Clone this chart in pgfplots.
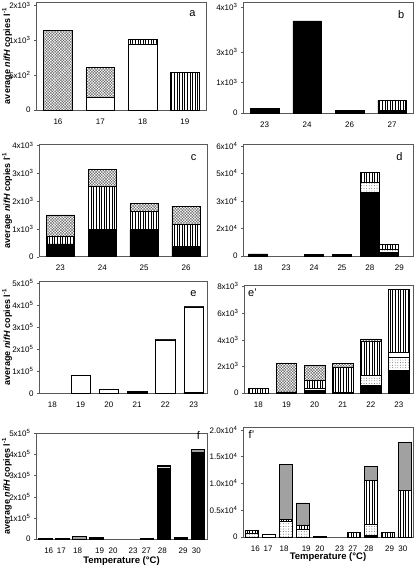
\documentclass[border=0pt]{standalone}
\usepackage{fontspec}
\setmainfont{Liberation Sans}
\setsansfont{Liberation Sans}
\usepackage{pgfplots}
\pgfplotsset{compat=1.18}
\usetikzlibrary{patterns.meta}

\newcommand{\E}[2]{#1x10\textsuperscript{#2}}

\tikzset{
 blk/.style={fill=black, draw=black},
 dts/.style={draw=black, pattern={Dots[distance=2.6pt, radius=0.45pt]}, pattern color=black!70},
 wht/.style={draw=black, fill=white},
 vrt/.style={draw=black, pattern={Lines[angle=90, distance=2.6pt, line width=0.5pt]}, pattern color=black},
 crs/.style={draw=black, pattern={Hatch[angle=45, distance=2pt, line width=0.35pt]}, pattern color=black!65},
 gry/.style={draw=black, fill=black!37},
 lettr/.style={font=\fontsize{11}{12}\selectfont},
}

\pgfplotsset{panel/.style={
 scale only axis, ybar stacked, ymin=0, enlargelimits=false,
 axis line style={black!65, line width=0.6pt},
 tick label style={font=\fontsize{8}{9}\selectfont},
 xtick style={draw=none},
 ytick style={black!65},
 tick align=outside, major tick length=2pt,
 ytick pos=left, xtick pos=bottom,
 scaled y ticks=false,
 xticklabel style={yshift=-3pt},
 ylabel style={font=\bfseries\fontsize{9}{10}\selectfont, anchor=center},
 xlabel style={font=\bfseries\fontsize{9.5}{11}\selectfont, at={(axis description cs:0.5,0)}, anchor=center},
 every axis plot/.append style={line width=0.5pt},
 clip=false,
 anchor=south west,
}}

\begin{document}
\begin{tikzpicture}
\useasboundingbox (0,0) rectangle (416pt,568pt);

% ---------- a ----------
\begin{axis}[panel, at={(36pt,458pt)}, width=170pt, height=108pt,
 xmin=-0.52, xmax=3.5, ymax=1550, bar width=0.68,
 xtick={0,1,2,3}, xticklabels={16,17,18,19},
 ytick={0,500,1000,1500}, yticklabels={0,\E{5}{2},\E{1}{3},\E{2}{3}},
 ylabel={average \textit{nifH} copies l\textsuperscript{-1}},
 ylabel style={at={(axis description cs:-0.17,0.5)}}]
\addplot[wht] coordinates {(0,0) (1,180) (2,950) (3,0)};
\addplot[vrt] coordinates {(0,0) (1,0) (2,60) (3,540)};
\addplot[crs] coordinates {(0,1140) (1,430) (2,0) (3,0)};
\node[lettr] at (rel axis cs:0.92,0.89) {a};
\end{axis}

% ---------- b ----------
\begin{axis}[panel, at={(243pt,455pt)}, width=170pt, height=111pt,
 xmin=-0.51, xmax=3.49, ymax=4000, bar width=0.67,
 xtick={0,1,2,3}, xticklabels={23,24,26,27},
 ytick={0,1100,2210,3820}, yticklabels={0,\E{1}{3},\E{3}{3},\E{4}{3}}]
\addplot[blk] coordinates {(0,180) (1,3320) (2,85) (3,85)};
\addplot[vrt] coordinates {(0,0) (1,0) (2,0) (3,370)};
\node[lettr] at (rel axis cs:0.93,0.89) {b};
\end{axis}

% ---------- c ----------
\begin{axis}[panel, at={(39pt,311.3pt)}, width=168pt, height=112.7pt,
 xmin=-0.51, xmax=3.5, ymax=4050, bar width=0.68,
 xtick={0,1,2,3}, xticklabels={23,24,25,26},
 ytick={0,1000,2000,3000,4000}, yticklabels={0,\E{1}{3},\E{2}{3},\E{3}{3},\E{4}{3}},
 ylabel={average \textit{nifH} copies l\textsuperscript{-1}},
 ylabel style={at={(axis description cs:-0.19,0.5)}}]
\addplot[blk] coordinates {(0,460) (1,980) (2,980) (3,360)};
\addplot[vrt] coordinates {(0,290) (1,1550) (2,640) (3,800)};
\addplot[crs] coordinates {(0,750) (1,595) (2,285) (3,655)};
\node[lettr] at (rel axis cs:0.92,0.88) {c};
\end{axis}

% ---------- d ----------
\begin{axis}[panel, at={(243pt,312pt)}, width=170pt, height=112pt,
 xmin=-0.54, xmax=5.54, ymax=61000, bar width=0.68,
 xtick={0,1,2,3,4,5.05}, xticklabels={18,23,24,25,28,29},
 ytick={0,15000,30000,45000,60000}, yticklabels={0,\E{2}{4},\E{3}{4},\E{5}{4},\E{6}{4}}]
\addplot[blk] coordinates {(0,1100) (1,0) (2,700) (3,700) (4,34800) (4.68,1800)};
\addplot[dts] coordinates {(0,0) (1,0) (2,0) (3,0) (4,5100) (4.68,1800)};
\addplot[vrt] coordinates {(0,0) (1,0) (2,0) (3,0) (4,5500) (4.68,2800)};
\node[lettr] at (rel axis cs:0.92,0.89) {d};
\end{axis}

% ---------- e ----------
\begin{axis}[panel, at={(39pt,174.7pt)}, width=168pt, height=112.3pt,
 xmin=-0.47, xmax=5.47, ymax=510000, bar width=0.69,
 xtick={0,1,2,3,4,5}, xticklabels={18,19,20,21,22,23},
 ytick={0,100000,200000,300000,400000,500000},
 yticklabels={0,\E{1}{5},\E{2}{5},\E{3}{5},\E{4}{5},\E{5}{5}},
 ylabel={average \textit{nifH} copies l\textsuperscript{-1}},
 ylabel style={at={(axis description cs:-0.19,0.5)}}]
\addplot[blk] coordinates {(0,0) (1,0) (2,0) (3,9000) (4,0) (5,5000)};
\addplot[wht] coordinates {(0,0) (1,80000) (2,17000) (3,0) (4,243000) (5,387000)};
\addplot[dts] coordinates {(0,0) (1,0) (2,0) (3,0) (4,0) (5,3000)};
\addplot[blk] coordinates {(0,0) (1,1500) (2,1500) (3,0) (4,2000) (5,0)};
\node[lettr] at (rel axis cs:0.92,0.89) {e};
\end{axis}

% ---------- e' ----------
\begin{axis}[panel, at={(244pt,175pt)}, width=169pt, height=108pt,
 xmin=-0.51, xmax=5.5, ymax=8100, bar width=0.73,
 xtick={0,1,2,3,4,5}, xticklabels={18,19,20,21,22,23},
 ytick={0,2000,4000,6000,8000}, yticklabels={0,\E{2}{3},\E{4}{3},\E{6}{3},\E{8}{3}}]
\addplot[blk] coordinates {(0,0) (1,80) (2,200) (3,70) (4,550) (5,1710)};
\addplot[dts] coordinates {(0,0) (1,0) (2,0) (3,0) (4,810) (5,950)};
\addplot[wht] coordinates {(0,0) (1,0) (2,150) (3,0) (4,0) (5,400)};
\addplot[vrt] coordinates {(0,370) (1,0) (2,600) (3,1830) (4,2500) (5,4690)};
\addplot[crs] coordinates {(0,0) (1,2170) (2,1100) (3,310) (4,190) (5,0)};
\node[lettr] at (rel axis cs:0.05,0.93) {e'};
\end{axis}

% ---------- f ----------
\begin{axis}[panel, at={(36pt,29pt)}, width=171pt, height=106pt,
 xmin=-0.55, xmax=9.53, ymax=500000, bar width=0.78,
 xtick={0.2,0.95,1.9,3.2,4.0,5.17,5.95,6.9,8.12,8.9},
 xticklabels={16,17,18,19,20,23,27,28,29,30},
 ytick={0,100000,200000,300000,400000,500000},
 yticklabels={0,\E{1}{5},\E{2}{5},\E{3}{5},\E{4}{5},\E{5}{5}},
 ylabel={average \textit{nifH} copies l\textsuperscript{-1}},
 ylabel style={at={(axis description cs:-0.17,0.5)}},
 xlabel={Temperature (°C)}, xlabel style={yshift=-22pt}]
\addplot[blk] coordinates {(0,2000) (1,3000) (2,0) (3,7000) (4,0) (5,0) (6,2000) (7,335000) (8,9000) (9,403000)};
\addplot[dts] coordinates {(0,0) (1,0) (2,0) (3,0) (4,0) (5,0) (6,0) (7,7500) (8,0) (9,7500)};
\addplot[gry] coordinates {(0,0) (1,0) (2,13000) (3,0) (4,0) (5,0) (6,0) (7,6000) (8,0) (9,12000)};
\node[lettr] at (rel axis cs:0.95,0.98) {f};
\end{axis}

% ---------- f' ----------
\begin{axis}[panel, at={(243pt,31pt)}, width=170pt, height=110pt,
 xmin=-0.53, xmax=9.5, ymax=20500, bar width=0.76,
 xtick={0.2,0.95,1.9,3.2,4.0,5.17,5.95,6.9,8.12,8.9},
 xticklabels={16,17,18,19,20,23,27,28,29,30},
 ytick={0,5000,10000,15000,20000},
 yticklabels={0,0.5x10\textsuperscript{4},1.0x10\textsuperscript{4},1.5x10\textsuperscript{4},2.0x10\textsuperscript{4}},
 xlabel={Temperature (°C)}, xlabel style={yshift=-20pt}]
\addplot[blk] coordinates {(0,0) (1,0) (2,0) (3,0) (4,0) (5,0) (6,0) (7,400) (8,0) (9,0)};
\addplot[dts] coordinates {(0,650) (1,0) (2,2850) (3,1500) (4,0) (5,0) (6,0) (7,1950) (8,0) (9,0)};
\addplot[wht] coordinates {(0,0) (1,550) (2,0) (3,0) (4,0) (5,0) (6,0) (7,0) (8,0) (9,0)};
\addplot[vrt] coordinates {(0,600) (1,0) (2,450) (3,750) (4,0) (5,0) (6,910) (7,8270) (8,910) (9,8750)};
\addplot[gry] coordinates {(0,0) (1,0) (2,10200) (3,4100) (4,180) (5,0) (6,0) (7,2550) (8,0) (9,8870)};
\node[lettr] at (rel axis cs:0.05,0.93) {f'};
\end{axis}
\end{tikzpicture}
\end{document}
